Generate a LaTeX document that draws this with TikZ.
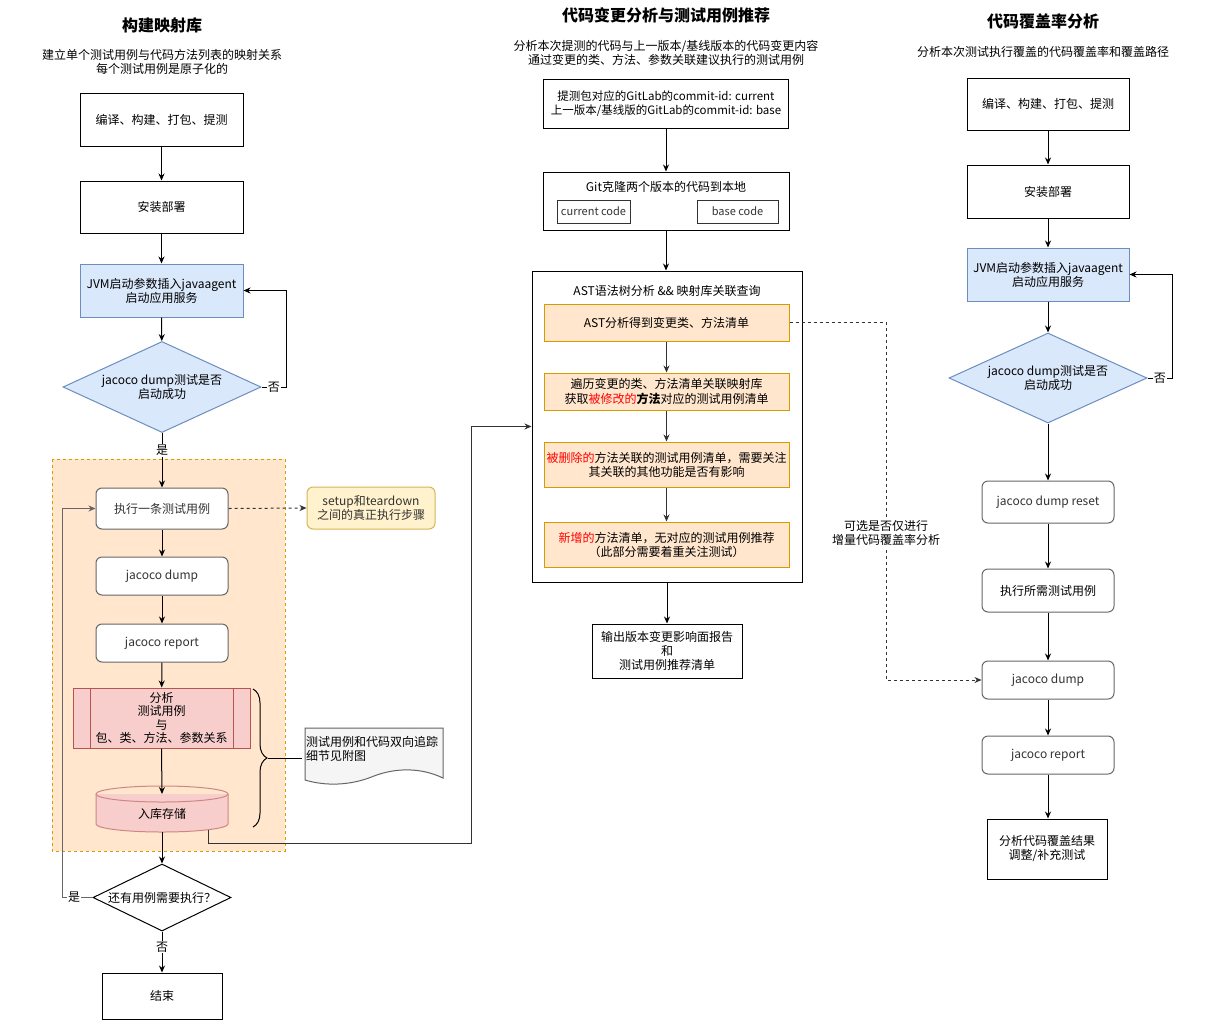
\documentclass[tikz,border=0pt]{standalone}
\usepackage{fontspec}
\setmainfont{Noto Sans CJK SC}
\usepackage{xcolor}
\definecolor{blueFill}{HTML}{DAE8FC}
\definecolor{blueLine}{HTML}{6C8EBF}
\definecolor{orangeFill}{HTML}{FFE6CC}
\definecolor{orangeLine}{HTML}{D79B00}
\definecolor{redFill}{HTML}{F8CECC}
\definecolor{redLine}{HTML}{B85450}
\definecolor{noteFill}{HTML}{FFF2CC}
\definecolor{noteLine}{HTML}{D6B656}
\definecolor{docFill}{HTML}{F5F5F5}
\definecolor{grayLine}{HTML}{666666}
\definecolor{darkText}{HTML}{333333}
\usepackage{tikz}
\usetikzlibrary{positioning,arrows.meta,shapes.geometric,decorations.pathreplacing}

\begin{document}
\begin{tikzpicture}[x=1pt, y=-1pt,
    font=\fontsize{12}{14}\selectfont,
    box/.style={draw=black, fill=white, line width=1pt, align=center, inner sep=0pt},
    rbox/.style={box, draw=grayLine, rounded corners=6pt, text=darkText},
    jvm/.style={box, fill=blueFill, draw=blueLine},
    task/.style={box, fill=orangeFill, draw=orangeLine},
    decide/.style={diamond, draw=blueLine, fill=blueFill, line width=1pt,
                   align=center, inner sep=1pt, shape aspect=2.2},
    arr/.style={draw=black, line width=1pt, -{Stealth[length=7pt,width=6pt]}},
    dasharr/.style={arr, draw=darkText, dashed},
    lbl/.style={fill=white, inner sep=1pt},
    heading/.style={font=\fontsize{16}{18}\selectfont\bfseries}]
  \useasboundingbox[fill=white] (0,0) rectangle (1206,1025);

  % column 1: build the mapping library
  \node[heading] (t1) at (162,25) {构建映射库};
  \node[align=center] (s1) at (162,62) {建立单个测试用例与代码方法列表的映射关系\\每个测试用例是原子化的};
  \fill[orangeFill] (52,459) rectangle (285,851);
  \draw[orangeLine, dashed, line width=0.8pt] (52,459) rectangle (285,851);
  \node[box, minimum width=163, minimum height=53] (b1) at (161.5,119.5) {编译、构建、打包、提测};
  \node[box, minimum width=163, minimum height=52] (b2) at (161.5,207) {安装部署};
  \node[jvm, minimum width=163, minimum height=53] (b3) at (161.5,290.5) {JVM启动参数插入javaagent\\启动应用服务};
  \node[decide, minimum width=198, minimum height=91] (d1) at (162,387) {jacoco dump测试是否\\启动成功};
  \node[rbox, minimum width=132, minimum height=41] (e1) at (162,508.5) {执行一条测试用例};
  \node[box, rounded corners=6pt, fill=noteFill, draw=noteLine, text=darkText,
        minimum width=128, minimum height=42] (n1) at (371,508) {setup和teardown\\之间的真正执行步骤};
  \node[rbox, minimum width=132, minimum height=38] (e2) at (162,576) {jacoco dump};
  \node[rbox, minimum width=132, minimum height=38] (e3) at (162,643) {jacoco report};
  \node[box, fill=redFill, draw=redLine, minimum width=177, minimum height=60,
        font=\fontsize{12}{13.5}\selectfont] (pr) at (161.5,718) {分析\\测试用例\\与\\包、类、方法、参数关系};
  \draw[redLine, line width=1pt] ([xshift=18pt]pr.north west) -- ([xshift=18pt]pr.south west);
  \draw[redLine, line width=1pt] ([xshift=-17pt]pr.north east) -- ([xshift=-17pt]pr.south east);
  % storage cylinder
  \fill[redFill] (96,794) rectangle (228,824);
  \fill[redFill] (162,824) ellipse [x radius=66, y radius=8];
  \draw[redLine!70, line width=1pt] (96,794) -- (96,824)
    .. controls (96,828.4) and (125.5,832) .. (162,832)
    .. controls (198.5,832) and (228,828.4) .. (228,824) -- (228,794);
  \draw[redLine!70, line width=1pt] (162,794) ellipse [x radius=66, y radius=8];
  \node[minimum width=132, minimum height=46] (cy) at (162,809) {};
  \node at (162,814) {入库存储};
  \coordinate (cyout) at (208,830);
  % brace and attached document note
  \draw[line width=1pt, decorate, decoration={brace, amplitude=14pt}] (253,689) -- (253,827);
  \coordinate (brtip) at (268,758);
  \draw[docFill, fill=docFill] (305,728) -- (443,728) -- (443,778)
    .. controls (420,767) and (395,768) .. (374,776)
    .. controls (350,786) and (325,786) .. (305,780) -- cycle;
  \draw[grayLine, line width=1pt] (305,728) -- (443,728) -- (443,778)
    .. controls (420,767) and (395,768) .. (374,776)
    .. controls (350,786) and (325,786) .. (305,780) -- cycle;
  \node[anchor=north west, align=left, inner sep=0pt] (doc) at (306,736) {测试用例和代码双向追踪\\细节见附图};
  \coordinate (docin) at (302,758);
  \node[diamond, draw=black, fill=white, line width=1pt, align=center, inner sep=1pt,
        shape aspect=2.1, minimum width=138, minimum height=67] (d2) at (162,897.5) {还有用例需要执行？};
  \node[box, minimum width=120, minimum height=46] (fin) at (162,996) {结束};

  \draw[arr] (b1) -- (b2);
  \draw[arr] (b2) -- (b3);
  \draw[arr] (b3) -- (d1);
  \draw[arr] (d1.east) -- node[lbl] {否} (286,387) |- (b3.east);
  \draw[arr] (d1.south) -- node[lbl, pos=0.32] {是} (e1.north);
  \draw[dasharr] (e1.east) -- (n1.west);
  \draw[arr] (e1) -- (e2);
  \draw[arr] (e2) -- (e3);
  \draw[arr] (e3) -- (pr);
  \draw[arr] (pr.south) -- (162,794);
  \draw[arr] (162,832) -- (d2.north);
  \draw[line width=1pt] (brtip) -- (docin);
  \draw[arr, draw=grayLine] (d2.west) -- node[lbl, pos=0.6] {是} (62,897.5) |- (e1.west);
  \draw[arr] (d2.south) -- node[lbl, pos=0.38] {否} (fin.north);

  % column 2: change analysis and test recommendation
  \node[heading] (t2) at (666,15) {代码变更分析与测试用例推荐};
  \node[align=center] (s2) at (666,53) {分析本次提测的代码与上一版本/基线版本的代码变更内容\\通过变更的类、方法、参数关联建议执行的测试用例};
  \node[box, minimum width=245, minimum height=49, font=\fontsize{11.5}{14}\selectfont] (c1) at (666,103.5) {提测包对应的GitLab的commit-id: current\\上一版本/基线版的GitLab的commit-id: base};
  \node[box, minimum width=246, minimum height=58] (c2) at (666,201) {};
  \node (c2t) at (666,187) {Git克隆两个版本的代码到本地};
  \node[box, draw=darkText, text=darkText, minimum width=73, minimum height=23,
        font=\fontsize{11}{13}\selectfont] (cur) at (593.5,211.5) {current code};
  \node[box, draw=darkText, text=darkText, minimum width=81, minimum height=23,
        font=\fontsize{11}{13}\selectfont] (bas) at (737.5,211.5) {base code};
  \node[box, minimum width=270, minimum height=311] (ast) at (667,426.5) {};
  \node (astt) at (667,291) {AST语法树分析 \&\& 映射库关联查询};
  \node[task, minimum width=245, minimum height=37] (a1) at (666.5,322.5) {AST分析得到变更类、方法清单};
  \node[task, minimum width=245, minimum height=37] (a2) at (666.5,391.5) {遍历变更的类、方法清单关联映射库\\获取\textcolor{red}{被修改的}\textbf{方法}对应的测试用例清单};
  \node[task, minimum width=245, minimum height=45] (a3) at (666.5,464.5) {\textcolor{red}{被删除的}方法关联的测试用例清单，需要关注\\其关联的其他功能是否有影响};
  \node[task, minimum width=245, minimum height=45] (a4) at (666.5,544.5) {\textcolor{red}{新增的}方法清单，无对应的测试用例推荐\\（此部分需要着重关注测试）};
  \node[box, minimum width=150, minimum height=54] (out) at (667,651) {输出版本变更影响面报告\\和\\测试用例推荐清单};

  \draw[arr] (c1) -- (c2);
  \draw[arr] (c2.south) -- (ast.north -| c2.south);
  \draw[arr, draw=darkText] (a1) -- (a2);
  \draw[arr, draw=darkText] (a2) -- (a3);
  \draw[arr, draw=darkText] (a3) -- (a4);
  \draw[arr] (ast.south) -- (out.north);
  \draw[arr, draw=darkText] (cyout) |- (471,843) |- (ast.west);

  % column 3: code coverage analysis
  \node[heading] (t3) at (1043,21) {代码覆盖率分析};
  \node (s3) at (1043,52) {分析本次测试执行覆盖的代码覆盖率和覆盖路径};
  \node[box, minimum width=162, minimum height=52] (r1) at (1048,104) {编译、构建、打包、提测};
  \node[box, minimum width=162, minimum height=53] (r2) at (1048,191.5) {安装部署};
  \node[jvm, minimum width=162, minimum height=53] (r3) at (1048,274.5) {JVM启动参数插入javaagent\\启动应用服务};
  \node[decide, minimum width=198, minimum height=90] (rd) at (1048,378) {jacoco dump测试是否\\启动成功};
  \node[rbox, minimum width=132, minimum height=42] (r4) at (1048,502) {jacoco dump reset};
  \node[rbox, minimum width=132, minimum height=43, text=black] (r5) at (1048,590.5) {执行所需测试用例};
  \node[rbox, minimum width=132, minimum height=38] (r6) at (1048,680) {jacoco dump};
  \node[rbox, minimum width=132, minimum height=38] (r7) at (1048,755) {jacoco report};
  \node[box, minimum width=120, minimum height=60] (r8) at (1047,849) {分析代码覆盖结果\\调整/补充测试};

  \draw[arr] (r1) -- (r2);
  \draw[arr] (r2) -- (r3);
  \draw[arr] (r3) -- (rd);
  \draw[arr] (rd.east) -- node[lbl] {否} (1172,378) |- (r3.east);
  \draw[arr] (rd) -- (r4);
  \draw[arr] (r4) -- (r5);
  \draw[arr] (r5) -- (r6);
  \draw[arr] (r6) -- (r7);
  \draw[arr] (r7.south) -- (r8.north -| r7.south);
  \draw[dasharr] (a1.east) -- (886,322.5) -- node[lbl, align=center, pos=0.59] {可选是否仅进行\\增量代码覆盖率分析} (886,680) -- (r6.west);
\end{tikzpicture}
\end{document}
